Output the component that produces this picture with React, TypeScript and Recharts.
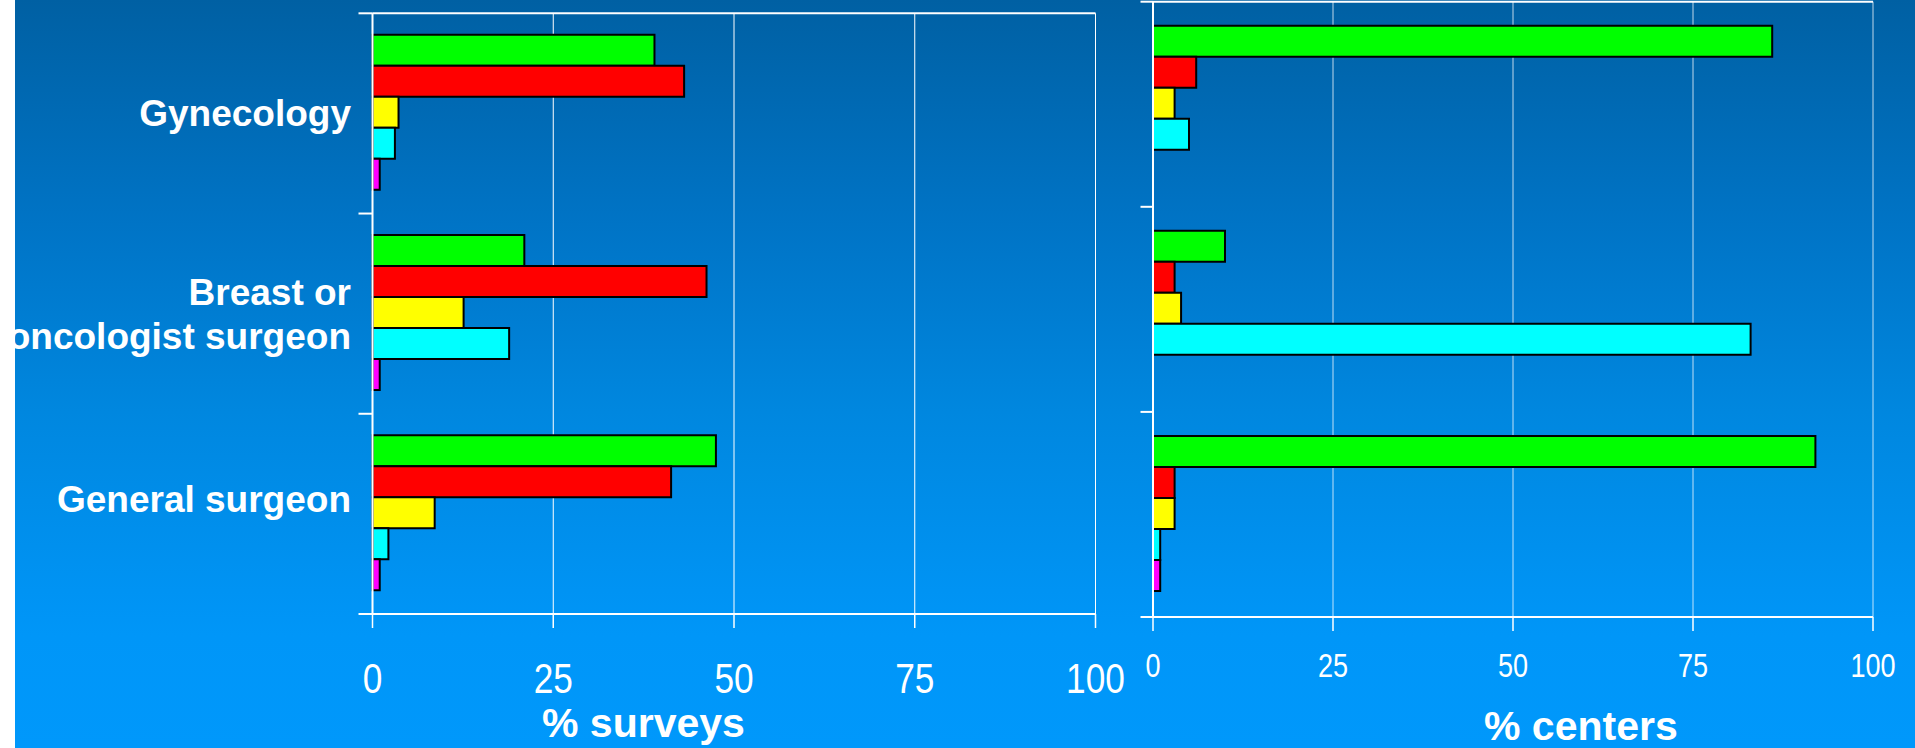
import { BarChart, Bar, XAxis, YAxis, CartesianGrid } from 'recharts'

// categories, top to bottom
const categories = ['Gynecology', 'Breast or oncologist surgeon', 'General surgeon']
const categoryLines = [['Gynecology'], ['Breast or', 'oncologist surgeon'], ['General surgeon']]
const xTicks = [0, 25, 50, 75, 100]
const bandTicks = [0, 1, 2, 3]

// % surveys (left panel)
const surveysGreen = [39, 21, 47.5]
const surveysRed = [43.1, 46.2, 41.3]
const surveysYellow = [3.6, 12.6, 8.6]
const surveysCyan = [3.1, 18.9, 2.2]
const surveysMagenta = [1, 1, 1]

// % centers (right panel)
const centersGreen = [86, 10, 92]
const centersRed = [6, 3, 3]
const centersYellow = [3, 3.9, 3]
const centersCyan = [5, 83, 1]
const centersMagenta = [0, 0, 1]

const seriesColors = ['#00ff00', '#ff0000', '#ffff00', '#00ffff', '#ff00ff']
const seriesKeys = ['green', 'red', 'yellow', 'cyan', 'magenta']

const buildRows = (cols: number[][]) =>
  categories.map((name, i) => {
    const row: any = { name }
    seriesKeys.forEach((k, s) => { row[k] = cols[s][i] })
    return row
  })

const surveysData = buildRows([surveysGreen, surveysRed, surveysYellow, surveysCyan, surveysMagenta])
const centersData = buildRows([centersGreen, centersRed, centersYellow, centersCyan, centersMagenta])

const sans = "'Liberation Sans', Arial, sans-serif"

// "General surgeon" sits a little above its band centre in the original
const labelShift = [0, 0, -15]

const CategoryTick = (props: any) => {
  const { x, y, payload } = props
  const idx = categories.indexOf(payload.value)
  const lines = categoryLines[idx] || []
  const start = y + labelShift[idx] - ((lines.length - 1) * 44) / 2 + 13
  return (
    <g>
      {lines.map((l, i) => (
        <text key={l} x={x} y={start + i * 44} textAnchor="end" fill="#fff"
          fontFamily={sans} fontWeight="bold" fontSize={37}>{l}</text>
      ))}
    </g>
  )
}

// condensed numeric labels (Arial Narrow look)
const makeValueTick = (fontSize: number) => (props: any) => {
  const { x, y, payload } = props
  return (
    <text transform={`translate(${x},${y}) scale(0.82,1)`} textAnchor="middle" fill="#fff"
      fontFamily={sans} fontSize={fontSize} dy={fontSize * 0.716}>{payload.value}</text>
  )
}
const LeftValueTick = makeValueTick(43)
const RightValueTick = makeValueTick(33)

interface PanelProps {
  data: any[]
  width: number
  left: number
  top: number
  right: number
  bottomMargin: number
  gap: number
  valueTick: any
  tickMargin: number
  gridStroke: string
  showLabels: boolean
  bandTick: number
}

function Panel({ data, width, left, top, right, bottomMargin, gap, valueTick, tickMargin, gridStroke, showLabels, bandTick }: PanelProps) {
  // plot area: left..width-right horizontally, top..748-(60+bottomMargin) vertically
  const xAxisH = 60
  return (
    <div style={{ position: 'relative', width, height: 748 }}>
      <div style={{ position: 'absolute', left: 0, top: 0 }}>
        <BarChart layout="vertical" width={width} height={748} data={data}
          margin={{ top: top - 1, right, left: left - 1, bottom: bottomMargin }}
          barCategoryGap={gap} barGap={0}>
          <CartesianGrid horizontal={false} vertical stroke={gridStroke} strokeWidth={1}
            xAxisId="val" yAxisId="cat" />
          <XAxis xAxisId="val" type="number" domain={[0, 100]} ticks={xTicks} height={xAxisH} interval={0}
            axisLine={{ stroke: '#fff', strokeWidth: 2 }} tickLine={{ stroke: '#fff', strokeWidth: 1.5 }}
            tickSize={14} tickMargin={tickMargin} tick={valueTick} />
          <XAxis xAxisId="top" orientation="top" type="number" domain={[0, 100]} height={1}
            tick={false} tickLine={false} axisLine={{ stroke: '#fff', strokeWidth: 2 }} />
          <YAxis yAxisId="cat" type="category" dataKey="name" width={1} axisLine={false}
            tickLine={false} tickSize={0} tickMargin={21.5} interval={0}
            tick={showLabels ? <CategoryTick /> : false} />
          {seriesKeys.map((k, s) => (
            <Bar key={k} dataKey={k} xAxisId="val" yAxisId="cat" fill={seriesColors[s]}
              stroke="#000" strokeWidth={2} isAnimationActive={false} />
          ))}
        </BarChart>
      </div>
      {/* overlay: value axis line with band-boundary ticks */}
      <div style={{ position: 'absolute', left: 0, top: 0 }}>
        <BarChart width={width} height={748} data={data}
          margin={{ top, right, left: left - 1, bottom: bottomMargin + xAxisH }}>
          <XAxis dataKey="name" hide />
          <YAxis type="number" domain={[0, 3]} ticks={bandTicks} width={1} interval={0}
            allowDataOverflow tickFormatter={() => ''} tickSize={bandTick}
            tickLine={{ stroke: '#fff', strokeWidth: 2 }} axisLine={{ stroke: '#fff', strokeWidth: 2 }} />
        </BarChart>
      </div>
    </div>
  )
}

export default function App() {
  return (
    <div>
      <style>{'body{margin:0}'}</style>
      <div style={{
        position: 'absolute', left: 15, top: 0, width: 1900, height: 748, overflow: 'hidden',
        background: 'linear-gradient(to bottom, #0060a3 0%, #0074c6 30%, #0087df 55%, #0096f8 85%, #0098fb 100%)'
      }}>
        <div style={{ position: 'absolute', left: 0, top: 0 }}>
          <Panel data={surveysData} width={1130} left={357.5} top={13.3} right={49.5} bottomMargin={74}
            gap={21.5} valueTick={<LeftValueTick />} tickMargin={34.5} gridStroke="#ffffff"
            showLabels bandTick={14} />
        </div>
        <div style={{ position: 'absolute', left: 1080, top: 0 }}>
          <Panel data={centersData} width={820} left={58} top={1.7} right={42} bottomMargin={71}
            gap={24} valueTick={<RightValueTick />} tickMargin={22} gridStroke="rgba(255,255,255,0.75)"
            showLabels={false} bandTick={12.5} />
        </div>
        <div style={{
          position: 'absolute', left: 527, top: 703, color: '#fff', fontFamily: sans,
          fontWeight: 'bold', fontSize: 41, lineHeight: 1, whiteSpace: 'nowrap'
        }}>% surveys</div>
        <div style={{
          position: 'absolute', left: 1469, top: 706, color: '#fff', fontFamily: sans,
          fontWeight: 'bold', fontSize: 41, lineHeight: 1, whiteSpace: 'nowrap'
        }}>% centers</div>
      </div>
    </div>
  )
}
